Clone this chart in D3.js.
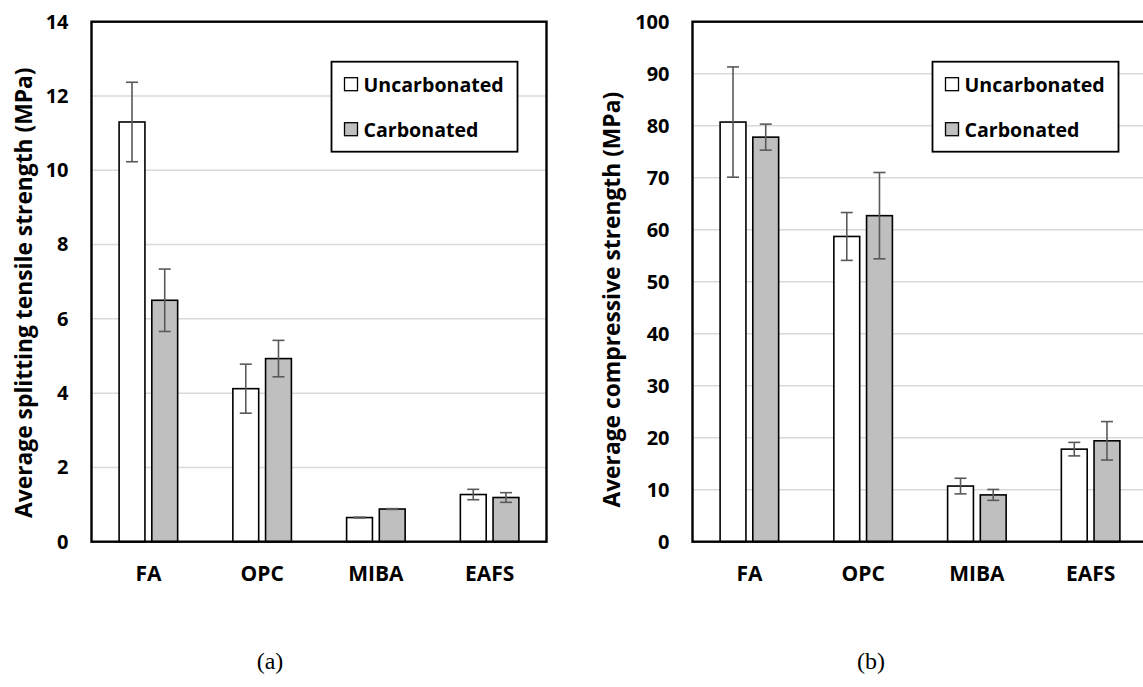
<!DOCTYPE html>
<html>
<head>
<meta charset="utf-8">
<style>
  body { margin: 0; background: #fff; }
  svg { display: block; }
  text { font-family: "Open Sans", "Noto Sans", sans-serif; font-weight: bold; fill: #000; }
</style>
</head>
<body>
<svg width="1143" height="687"></svg>
<script src="https://d3js.org/d3.v7.min.js"></script>
<script>
// categories and series
var categories = ["FA", "OPC", "MIBA", "EAFS"];
var series = ["Uncarbonated", "Carbonated"];

// (a) splitting tensile strength, MPa
var tensileUncarb = [11.3, 4.12, 0.65, 1.27];
var tensileUncarbErr = [1.07, 0.66, 0.01, 0.14];
var tensileCarb = [6.5, 4.93, 0.88, 1.19];
var tensileCarbErr = [0.84, 0.49, 0.01, 0.13];
var tensileTicks = [0, 2, 4, 6, 8, 10, 12, 14];

// (b) compressive strength, MPa
var compUncarb = [80.7, 58.7, 10.7, 17.8];
var compUncarbErr = [10.6, 4.6, 1.5, 1.3];
var compCarb = [77.8, 62.7, 9.0, 19.4];
var compCarbErr = [2.5, 8.3, 1.05, 3.7];
var compTicks = [0, 10, 20, 30, 40, 50, 60, 70, 80, 90, 100];

var colors = {"Uncarbonated": "#ffffff", "Carbonated": "#bfbfbf"};

var svg = d3.select("svg");
svg.append("rect").attr("width", 1143).attr("height", 687).attr("fill", "#fff");

var plotW = 455, plotH = 520, plotTop = 21.7;

function drawPanel(opts) {
    var g = svg.append("g").attr("transform", "translate(" + opts.left + "," + plotTop + ")");

    var x = d3.scaleBand().domain(categories).range([0, plotW]);
    var x1 = d3.scaleBand().domain(series).range([0, x.bandwidth()])
        .paddingInner(0.21).paddingOuter(0.844);
    var y = d3.scaleLinear().domain([0, opts.max]).range([plotH, 0]);

    // gridlines
    g.append("g").selectAll("line")
        .data(opts.ticks.filter(function (t) { return t > 0 && t < opts.max; }))
        .enter().append("line")
        .attr("x1", 0).attr("x2", plotW)
        .attr("y1", function (d) { return y(d); })
        .attr("y2", function (d) { return y(d); })
        .attr("stroke", "#d9d9d9")
        .attr("stroke-width", 1.5);

    // y axis labels
    var yAxis = g.append("g")
        .call(d3.axisLeft(y).tickValues(opts.ticks).tickSize(0).tickPadding(23));
    yAxis.select(".domain").remove();
    yAxis.selectAll("text")
        .style("font-family", "'Open Sans', sans-serif")
        .style("font-weight", "bold")
        .style("font-size", "20px");

    // x axis labels
    var xAxis = g.append("g")
        .attr("transform", "translate(0," + plotH + ")")
        .call(d3.axisBottom(x).tickSize(0).tickPadding(24));
    xAxis.select(".domain").remove();
    xAxis.selectAll("text")
        .style("font-family", "'Open Sans', sans-serif")
        .style("font-weight", "bold")
        .style("font-size", "21px");

    var rows = [];
    categories.forEach(function (c, i) {
        rows.push({cat: c, s: "Uncarbonated", v: opts.uncarb[i], e: opts.uncarbErr[i]});
        rows.push({cat: c, s: "Carbonated", v: opts.carb[i], e: opts.carbErr[i]});
    });

    // bars
    g.append("g").selectAll("rect")
        .data(rows)
        .enter().append("rect")
        .attr("x", function (d) { return x(d.cat) + x1(d.s); })
        .attr("y", function (d) { return y(d.v); })
        .attr("width", x1.bandwidth())
        .attr("height", function (d) { return plotH - y(d.v); })
        .attr("fill", function (d) { return colors[d.s]; })
        .attr("stroke", "#000")
        .attr("stroke-width", 1.6);

    // error bars
    var eb = g.append("g").attr("stroke", "#595959").attr("stroke-width", 1.6);
    rows.forEach(function (d) {
        var cx = x(d.cat) + x1(d.s) + x1.bandwidth() / 2;
        eb.append("line").attr("x1", cx).attr("x2", cx)
            .attr("y1", y(d.v + d.e)).attr("y2", y(d.v - d.e));
        [d.v + d.e, d.v - d.e].forEach(function (v) {
            eb.append("line").attr("x1", cx - 6).attr("x2", cx + 6)
                .attr("y1", y(v)).attr("y2", y(v));
        });
    });

    // frame
    g.append("rect")
        .attr("x", 0).attr("y", 0)
        .attr("width", plotW).attr("height", plotH)
        .attr("fill", "none")
        .attr("stroke", "#000")
        .attr("stroke-width", 2.4);

    // axis title
    svg.append("text")
        .attr("transform", "translate(" + opts.titleX + "," + (plotTop + plotH / 2 + opts.titleDy) + ") rotate(-90)")
        .attr("text-anchor", "middle")
        .attr("dominant-baseline", "central")
        .style("font-size", "22.8px")
        .text(opts.title);

    // legend
    var lg = g.append("g").attr("transform", "translate(" + (plotW - 29 - 186) + ",40)");
    lg.append("rect")
        .attr("width", 186).attr("height", 90)
        .attr("fill", "#fff").attr("stroke", "#000").attr("stroke-width", 1.8);
    series.forEach(function (s, i) {
        var row = lg.append("g").attr("transform", "translate(13," + (22.5 + i * 45) + ")");
        row.append("rect")
            .attr("x", 0).attr("y", -6.5).attr("width", 13).attr("height", 13)
            .attr("fill", colors[s]).attr("stroke", "#000").attr("stroke-width", 1.3);
        row.append("text")
            .attr("x", 19).attr("y", 0)
            .attr("dominant-baseline", "central")
            .style("font-size", "19.6px")
            .text(s);
    });

    // caption
    svg.append("text")
        .attr("x", opts.capX).attr("y", 669)
        .attr("text-anchor", "middle")
        .style("font-family", "'Liberation Serif', 'Times New Roman', serif")
        .style("font-weight", "normal")
        .style("font-size", "24px")
        .text(opts.caption);
}

drawPanel({
    left: 91.5, max: 14, ticks: tensileTicks,
    uncarb: tensileUncarb, uncarbErr: tensileUncarbErr,
    carb: tensileCarb, carbErr: tensileCarbErr,
    title: "Average splitting tensile strength (MPa)",
    titleX: 23, titleDy: 11,
    caption: "(a)", capX: 270
});

drawPanel({
    left: 692.5, max: 100, ticks: compTicks,
    uncarb: compUncarb, uncarbErr: compUncarbErr,
    carb: compCarb, carbErr: compCarbErr,
    title: "Average compressive strength (MPa)",
    titleX: 611, titleDy: 18,
    caption: "(b)", capX: 871
});
</script>
</body>
</html>
